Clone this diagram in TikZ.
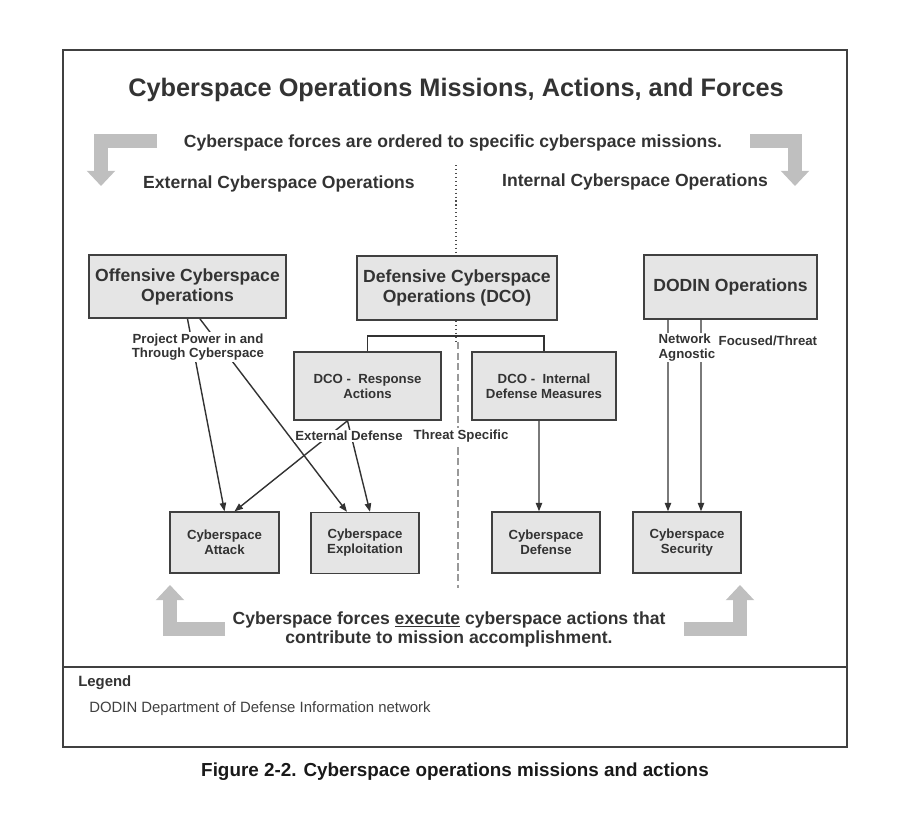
\documentclass[tikz,border=0pt]{standalone}
\usepackage{fontspec}
\setmainfont{Liberation Sans}
\usetikzlibrary{arrows.meta,positioning}

\begin{document}
\begin{tikzpicture}[x=0.025cm, y=-0.025cm,
  % Node styles
  mission/.style={draw=black!75, line width=1.2pt, fill=gray!20, align=center, text=black!80,
                  font=\fontsize{12.5}{14.2}\selectfont\bfseries, minimum height=1.6cm, inner sep=2pt},
  action/.style={draw=black!75, line width=1.1pt, fill=gray!20, align=center, text=black!80,
                 font=\fontsize{9.4}{10.6}\selectfont\bfseries, minimum width=2.7cm, minimum height=1.52cm},
  % Arrow styles
  link/.style={black!80, line width=1pt},
  flow/.style={link, -{Triangle[length=6pt, width=4.5pt]}},
  bigarrow/.style={black!25, line width=0.35cm, line join=miter, -{Triangle[length=0.38cm, width=0.69cm]}},
  % Label styles
  lbl/.style={fill=white, inner sep=1pt, align=center, text=black!80,
              font=\fontsize{9.4}{10.4}\selectfont\bfseries},
  head/.style={text=black!80, font=\fontsize{12.5}{13.6}\selectfont\bfseries, align=center},
]
\useasboundingbox (0,0) rectangle (903,823);

% === Frame and legend separator ===
\draw[black!75, line width=1pt] (63,50) rectangle (847,747);
\draw[black!75, line width=1pt] (63,667) -- (847,667);

% === Headings ===
\node[text=black!80, font=\fontsize{18}{20}\selectfont\bfseries] (title) at (456,90)
  {Cyberspace Operations Missions, Actions, and Forces};
\node[head] (ordered) at (453,143) {Cyberspace forces are ordered to specific cyberspace missions.};
\node[head] (external) at (279,184) {External Cyberspace Operations};
\node[head] (internal) at (635,182) {Internal Cyberspace Operations};

% === Grey turning arrows ===
\draw[bigarrow] (157,141) -- (101,141) -- (101,186);
\draw[bigarrow] (750,141) -- (795,141) -- (795,186);
\draw[bigarrow] (225,629) -- (170,629) -- (170,585);
\draw[bigarrow] (684,629) -- (740,629) -- (740,585);

% === Missions ===
\node[mission, minimum width=4.925cm, minimum height=1.575cm] (OCO) at (187.5,286.5) {Offensive Cyberspace\\Operations};
\node[mission, minimum width=5cm] (DCO) at (457,288) {Defensive Cyberspace\\Operations (DCO)};
\node[mission, minimum width=4.325cm] (DODIN) at (730.5,287) {DODIN Operations};

% === DCO branches ===
\node[action, minimum width=3.675cm, minimum height=1.7cm] (RA) at (367.5,386) {DCO -~ Response\\Actions};
\node[action, minimum width=3.6cm, minimum height=1.7cm] (IDM) at (544,386) {DCO -~ Internal\\Defense Measures};

% === Actions ===
\node[action, minimum width=2.725cm] (ATK) at (224.5,542.5) {Cyberspace\\Attack};
\node[action] (EXP) at (365,543) {Cyberspace\\Exploitation};
\node[action] (DEF) at (546,542.5) {Cyberspace\\Defense};
\node[action] (SEC) at (687,542.5) {Cyberspace\\Security};

% === External / internal divider ===
\coordinate (divtop) at (456,165);
\coordinate (brk) at (456,336);
\coordinate (divbot) at (458,588);
\draw[black!70, dotted, line width=0.8pt] (divtop) -- (divtop |- DCO.north);
\draw[black!70, dotted, line width=0.8pt] (divtop |- DCO.south) -- (456,342);
\draw[black!40, dashed, line width=1.8pt, dash pattern=on 5pt off 2.5pt] (458,342) -- (divbot);

% DCO bracket
\draw[link] (RA.north) |- (brk) -| (IDM.north);

% === OCO arrows ===
\draw[flow] (OCO.south) -- (ATK.north);
\draw[flow] ([xshift=0.31cm]OCO.south) -- ([xshift=-0.45cm]EXP.north);

% === Response action arrows ===
\draw[flow] ([xshift=-0.5cm]RA.south) -- ([xshift=0.25cm]ATK.north);
\draw[flow] ([xshift=-0.5cm]RA.south) -- ([xshift=0.125cm]EXP.north);

% === Internal defense arrow ===
\draw[flow] ([xshift=-0.125cm]IDM.south) -- ([xshift=-0.175cm]DEF.north);

% === DODIN arrows ===
\draw[flow] ([xshift=-1.5625cm]DODIN.south) -- ([xshift=-0.475cm]SEC.north);
\draw[flow] ([xshift=-0.7375cm]DODIN.south) -- ([xshift=0.35cm]SEC.north);

% === Path labels ===
\node[lbl] (power) at (198,347) {Project Power in and\\Through Cyberspace};
\node[lbl] (extdef) at (349,436) {External Defense};
\node[lbl] (threat) at (461,436) {Threat Specific};
\node[lbl, anchor=west, align=left] (agnostic) at (657,347.5) {Network\\Agnostic};
\node[lbl, anchor=west] (focused) at (717,340.5) {Focused/Threat};

% === Execution note ===
\node[head] (execute) at (449,629.5)
  {Cyberspace forces \underline{execute} cyberspace actions that\\contribute to mission accomplishment.};

% === Legend ===
\node[anchor=west, inner sep=0pt, text=black!80, font=\fontsize{10.6}{12}\selectfont\bfseries] (legend) at (78,683) {Legend};
\node[anchor=west, inner sep=0pt, text=black!75, font=\fontsize{10.6}{12}\selectfont] (dodin) at (89,709)
  {DODIN Department of Defense Information network};

% === Caption ===
\node[text=black!90, font=\fontsize{13.4}{15}\selectfont\bfseries] (caption) at (455,772)
  {Figure 2-2. Cyberspace operations missions and actions};

\end{tikzpicture}
\end{document}
